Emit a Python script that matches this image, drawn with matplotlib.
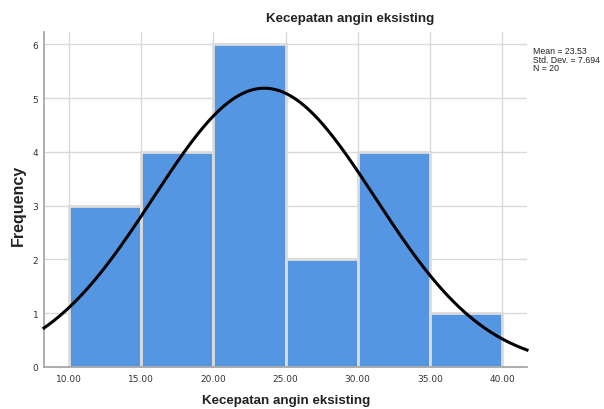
import numpy as np
import matplotlib
matplotlib.use("Agg")
import matplotlib.pyplot as plt

bin_edges = [10, 15, 20, 25, 30, 35, 40]
frequencies = [3, 4, 6, 2, 4, 1]
x_ticks = [10, 15, 20, 25, 30, 35, 40]
y_ticks = [0, 1, 2, 3, 4, 5, 6]
mean = 23.53
std = 7.694
n = 20

fig = plt.figure(figsize=(6.04, 4.10), dpi=100)
W, H = 604, 410
ax = fig.add_axes([44 / W, 1 - 368 / H, (527 - 44) / W, (368 - 33) / H])

xmin, xmax = 8.27, 41.73
ax.set_xlim(xmin, xmax)
ax.set_ylim(0, 6.23)

ax.set_axisbelow(True)
for x in x_ticks:
    ax.axvline(x, color="#d9d9d9", lw=1.0, zorder=0)
for y in y_ticks[1:]:
    ax.axhline(y, color="#d9d9d9", lw=1.0, zorder=0)

lefts = bin_edges[:-1]
widths = np.diff(bin_edges)
ax.bar(lefts, frequencies, width=widths, align="edge", color="#5596e3",
       edgecolor="#dcdcdc", linewidth=2.0, zorder=2)

xs = np.linspace(xmin, xmax, 400)
bw = bin_edges[1] - bin_edges[0]
ys = n * bw * np.exp(-0.5 * ((xs - mean) / std) ** 2) / (std * np.sqrt(2 * np.pi))
ax.plot(xs, ys, color="black", lw=2.2, zorder=3, clip_on=False)

ax.set_xticks(x_ticks)
ax.set_xticklabels([f"{v:.2f}" for v in x_ticks])
ax.set_yticks(y_ticks)
ax.tick_params(axis="both", length=0, labelsize=6.5, colors="#333333", pad=5)
ax.tick_params(axis="y", pad=4)

for s in ["top", "right"]:
    ax.spines[s].set_visible(False)
for s in ["left", "bottom"]:
    ax.spines[s].set_color("#a0a0a0")
    ax.spines[s].set_linewidth(1.2)

fig.text(350 / W, 1 - 19 / H, "Kecepatan angin eksisting", ha="center", va="center",
         fontsize=9.6, color="#222222", family="Liberation Sans", weight="bold")
fig.text(286 / W, 1 - 401 / H, "Kecepatan angin eksisting", ha="center", va="center",
         fontsize=9.6, color="#222222", family="Liberation Sans", weight="bold")
fig.text(18 / W, 1 - 205 / H, "Frequency", ha="center", va="center", rotation=90,
         fontsize=11.5, color="#222222", family="Liberation Sans", weight="bold")

fig.text(533 / W, 1 - 47 / H,
         f"Mean = {mean}\nStd. Dev. = {std}\nN = {n}",
         ha="left", va="top", fontsize=6.3, color="#222222",
         family="Liberation Sans", linespacing=0.95)

fig.savefig("out.png", dpi=100)
